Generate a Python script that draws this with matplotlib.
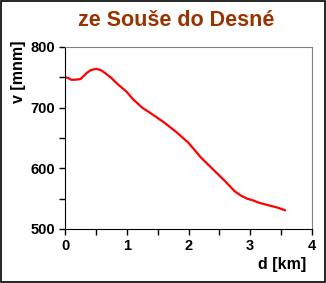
import matplotlib
matplotlib.use("Agg")
import matplotlib.pyplot as plt
from matplotlib.patches import Rectangle
from matplotlib.ticker import MultipleLocator

# vzdalenost [km] a vyska [m n.m.]
dist = [0, 0.05, 0.1, 0.15, 0.25, 0.3, 0.35, 0.42, 0.5, 0.58, 0.65, 0.75, 0.85,
        1.0, 1.1, 1.25, 1.4, 1.6, 1.8, 2.0, 2.2, 2.4, 2.6, 2.75, 2.85, 2.95,
        3.05, 3.15, 3.3, 3.45, 3.56]
elev = [750, 749, 746, 746, 747, 752, 757, 762, 764, 762, 757, 749, 739,
        726, 714, 700, 690, 676, 660, 642, 618, 598, 578, 562, 555, 550,
        547, 543, 539, 535, 531]
x_ticks = [0, 1, 2, 3, 4]
y_ticks = [500, 600, 700, 800]

plt.rcParams['font.family'] = ['Liberation Sans', 'DejaVu Sans']
plt.rcParams['font.weight'] = 'bold'

fig = plt.figure(figsize=(3.26, 2.83), dpi=100)
fig.patch.set_facecolor('white')
# ramecek kolem obrazku
fig.patches.append(Rectangle((0.002, 0.002), 0.995, 0.995, transform=fig.transFigure,
                             fill=False, edgecolor='black', linewidth=1.2))

ax = fig.add_axes([65/326, 1 - 229/283, (312-65)/326, (229-47)/283])
ax.plot(dist, elev, color='#ff0000', linewidth=1.6)

ax.set_xlim(0, 4)
ax.set_ylim(500, 800)
ax.set_xticks(x_ticks)
ax.set_yticks(y_ticks)
ax.xaxis.set_minor_locator(MultipleLocator(0.5))
ax.yaxis.set_minor_locator(MultipleLocator(50))
ax.tick_params(which='both', direction='out', length=4, width=1, labelsize=10.5)
ax.tick_params(which='major', pad=3)
for lab in ax.get_xticklabels() + ax.get_yticklabels():
    lab.set_fontweight('bold')

ax.spines['top'].set_color('#808080')
ax.spines['right'].set_color('#808080')
ax.spines['left'].set_color('black')
ax.spines['bottom'].set_color('black')

fig.text(176/326, 1 - 21/283, 'ze Souše do Desné', ha='center', va='center',
         fontsize=15.5, fontweight='bold', color='#993300')
fig.text(306/326, 1 - 264/283, 'd [km]', ha='right', va='center',
         fontsize=11.5, fontweight='bold')
fig.text(18/326, 1 - 72/283, 'v [mnm]', ha='center', va='center',
         rotation=90, fontsize=11.5, fontweight='bold')

fig.savefig('out.png', dpi=100)
